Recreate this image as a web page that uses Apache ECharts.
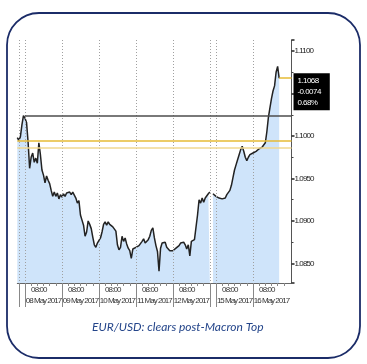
<!DOCTYPE html>
<html><head><meta charset="utf-8">
<script src="https://cdn.jsdelivr.net/npm/echarts@6/dist/echarts.min.js"></script>
<style>html,body{margin:0;padding:0;background:#fff}#c{width:367px;height:364px}</style>
</head><body><div id="c"></div>
<script>
// ---- data ----
const preHours = ['18:00', '19:00', '20:00', '21:00', '22:00']; // 07 May 2017 evening
const tradingDays = ['08 May 2017', '09 May 2017', '10 May 2017', '11 May 2017', '12 May 2017', '15 May 2017', '16 May 2017'];
const timeTickLabel = '08:00';
const eurusd = [
 1.0998, 1.0995, 1.0999, 1.1013, 1.1024, 1.1021, 1.1016, 1.0993, 1.0962, 1.0975,
 1.0980, 1.0969, 1.0974, 1.0968, 1.0992, 1.0978, 1.0960, 1.0954, 1.0945, 1.0953,
 1.0948, 1.0944, 1.0936, 1.0929, 1.0934, 1.0929, 1.0933, 1.0926, 1.0931, 1.0928,
 1.0932, 1.0929, 1.0933, 1.0931, 1.0934, 1.0931, 1.0934, 1.0932, 1.0927, 1.0921,
 1.0924, 1.0907, 1.0901, 1.0895, 1.0882, 1.0887, 1.0900, 1.0896, 1.0891, 1.0881,
 1.0872, 1.0869, 1.0874, 1.0876, 1.0880, 1.0887, 1.0896, 1.0899, 1.0895, 1.0899,
 1.0896, 1.0895, 1.0893, 1.0894, 1.0888, 1.0872, 1.0866, 1.0869, 1.0882, 1.0876,
 1.0880, 1.0873, 1.0868, 1.0865, 1.0856, 1.0867, 1.0868, 1.0869, 1.0868, 1.0871,
 1.0873, 1.0876, 1.0879, 1.0874, 1.0872, 1.0878, 1.0882, 1.0889, 1.0892, 1.0880,
 1.0871, 1.0864, 1.0841, 1.0868, 1.0874, 1.0872, 1.0875, 1.0869, 1.0867, 1.0865,
 1.0864, 1.0865, 1.0864, 1.0868, 1.0867, 1.0871, 1.0874, 1.0873, 1.0875, 1.0872,
 1.0867, 1.0872, 1.0859, 1.0876, 1.0875, 1.0878, 1.0880, 1.0907, 1.0925, 1.0921,
 1.0927, 1.0922, 1.0927, 1.0929, 1.0932, 1.0934, null, 1.0932, 1.0933, 1.0929,
 1.0931, 1.0927, 1.0929, 1.0926, 1.0928, 1.0927, 1.0931, 1.0933, 1.0936, 1.0942,
 1.0951, 1.0960, 1.0966, 1.0972, 1.0978, 1.0984, 1.0988, 1.0982, 1.0975, 1.0971,
 1.0975, 1.0978, 1.0976, 1.0980, 1.0979, 1.0982, 1.0984, 1.0985, 1.0986, 1.0987,
 1.0988, 1.0992, 1.1005, 1.1022, 1.1033, 1.1044, 1.1053, 1.1059, 1.1075, 1.1082,
 1.1068
];
const yMin = 1.0827, yMax = 1.1113;
const lastPrice = 1.1068;
const lastChange = '-0.0074';
const lastChangePct = '0.68%';
const postMacronTop = 1.1024;
const yellowLevel = 1.0994;
const paleYellowLevel = 1.0986;
const captionText = 'EUR/USD: clears post-Macron Top';

// ---- tighter letter spacing for the condensed axis-label look ----
(function () {
  const proto = CanvasRenderingContext2D.prototype;
  const desc = Object.getOwnPropertyDescriptor(proto, 'font');
  if (!desc || !('letterSpacing' in proto)) return;
  Object.defineProperty(proto, 'font', {
    configurable: true,
    get() { return desc.get.call(this); },
    set(v) {
      desc.set.call(this, v);
      const s = String(v);
      let ls = '0px';
      if (/ultra-condensed/.test(s)) ls = '-1px';
      else if (/extra-condensed/.test(s)) ls = '-0.9px';
      else if (/condensed/.test(s)) ls = '-0.55px';
      try { this.letterSpacing = ls; } catch (e) {}
    }
  });
})();

// ---- categories (hourly slots; each trading day block starts at 23:00 of previous day) ----
const cats = [];
const boundaryIdx = new Set([1]);
const timeIdx = new Map();
const dateIdx = new Map();
const shortTickIdx = new Set();
preHours.forEach(h => cats.push('07 May 2017 ' + h));
function addDay(d) {
  const start = cats.length;
  boundaryIdx.add(start);
  for (let k = 0; k < 24; k++) {
    const hh = (k + 23) % 24;
    cats.push(d + ' ' + String(hh).padStart(2, '0') + ':00');
    if (k % 4 === 0 && k > 0) shortTickIdx.add(start + k);
  }
  timeIdx.set(start + 9, timeTickLabel);
  dateIdx.set(start + 12, d);
}
tradingDays.slice(0, 5).forEach(addDay);
boundaryIdx.add(cats.length);
['12 May 2017 23:00', '13 May 2017', '14 May 2017', '14 May 2017 22:00'].forEach(c => cats.push(c));
tradingDays.slice(5).forEach(addDay);
['16 May 2017 23:00', '17 May 2017 00:00'].forEach(c => cats.push(c));
const lastIdx = eurusd.length - 1;
const endIdx = cats.length - 1;

const FONT = "'Liberation Sans', sans-serif";
const NARROW = 'extra-condensed';
const NARROWEST = 'ultra-condensed';
const SEMI = 'condensed';

const chart = echarts.init(document.getElementById('c'), null, {renderer: 'canvas'});
chart.setOption({
  animation: false,
  backgroundColor: '#fff',
  title: {
    text: captionText, left: 87, top: 316,
    textStyle: {fontFamily: 'Lato', fontStyle: 'italic', fontWeight: 'normal', fontSize: 12, color: '#24458a'}
  },
  graphic: [{
    type: 'rect', silent: true, z: 100,
    shape: {x: 7, y: 13, width: 353, height: 345, r: 32},
    style: {fill: 'none', stroke: '#1b2c68', lineWidth: 1.8}
  }],
  grid: {left: 17.3, right: 75.5, top: 40, bottom: 81, containLabel: false},
  xAxis: [{
    type: 'category', data: cats, boundaryGap: false, position: 'bottom',
    axisLine: {show: true, lineStyle: {color: '#666', width: 1}},
    axisTick: {show: true, interval: i => shortTickIdx.has(i), length: 3, lineStyle: {color: '#888'}},
    axisLabel: {interval: i => timeIdx.has(i), formatter: (v, i) => timeIdx.get(i) || '',
      showMinLabel: true, showMaxLabel: true, hideOverlap: false,
      fontSize: 8, fontWeight: NARROW, margin: 3, color: '#333', fontFamily: FONT},
    splitLine: {show: false}
  }, {
    type: 'category', data: cats, boundaryGap: false, position: 'bottom', z: 3,
    axisLine: {show: false},
    axisTick: {show: true, interval: i => boundaryIdx.has(i), length: 24, lineStyle: {color: '#888'}},
    axisLabel: {interval: i => dateIdx.has(i), formatter: (v, i) => dateIdx.get(i) || '',
      showMinLabel: true, showMaxLabel: true, hideOverlap: false,
      fontSize: 8, fontWeight: NARROWEST, margin: 14, color: '#333', fontFamily: FONT},
    splitLine: {show: true, interval: i => boundaryIdx.has(i), lineStyle: {color: '#a0a0a0', type: [1, 2], width: 1}}
  }],
  yAxis: {
    type: 'value', position: 'right', min: yMin, max: yMax, scale: true,
    axisLine: {show: true, lineStyle: {color: '#555', width: 1}},
    axisTick: {show: true, length: 3, lineStyle: {color: '#222', width: 1.5}},
    minorTick: {show: true, splitNumber: 2, length: 2, lineStyle: {color: '#444'}},
    axisLabel: {showMinLabel: false, showMaxLabel: false, formatter: v => v.toFixed(4),
      fontSize: 8, fontWeight: NARROW, margin: 3, color: '#222', fontFamily: FONT},
    splitLine: {show: false}
  },
  series: [{
    type: 'line', xAxisIndex: 0, data: eurusd, showSymbol: false, connectNulls: false,
    lineStyle: {color: '#222', width: 1.5},
    areaStyle: {color: '#cfe4fa', opacity: 1},
    z: 2,
    markLine: {
      silent: true, symbol: ['none', 'none'], animation: false,
      label: {show: false},
      data: [
        [{coord: [cats[5], postMacronTop], lineStyle: {color: '#4d4d4d', width: 1.5, type: 'solid'}},
         {coord: [cats[endIdx], postMacronTop]}],
        [{coord: [cats[0], yellowLevel], lineStyle: {color: '#e6bb35', width: 1.5, type: 'solid'}},
         {coord: [cats[endIdx], yellowLevel]}],
        [{coord: [cats[0], paleYellowLevel], lineStyle: {color: '#f1d98f', width: 1.5, type: 'solid'}},
         {coord: [cats[endIdx], paleYellowLevel]}],
        [{coord: [cats[lastIdx], lastPrice], lineStyle: {color: '#e6bb35', width: 1.5, type: 'solid'},
          label: {show: true, position: 'end', distance: 2, offset: [0, -5],
            formatter: [lastPrice.toFixed(4), lastChange, lastChangePct].join('\n'),
            backgroundColor: '#000', color: '#fff', fontSize: 8, fontWeight: SEMI, lineHeight: 11,
            padding: [2, 9, 2, 4], fontFamily: FONT, align: 'left', verticalAlign: 'top'}},
         {coord: [cats[endIdx], lastPrice]}]
      ]
    }
  }]
});
</script>
</body></html>
